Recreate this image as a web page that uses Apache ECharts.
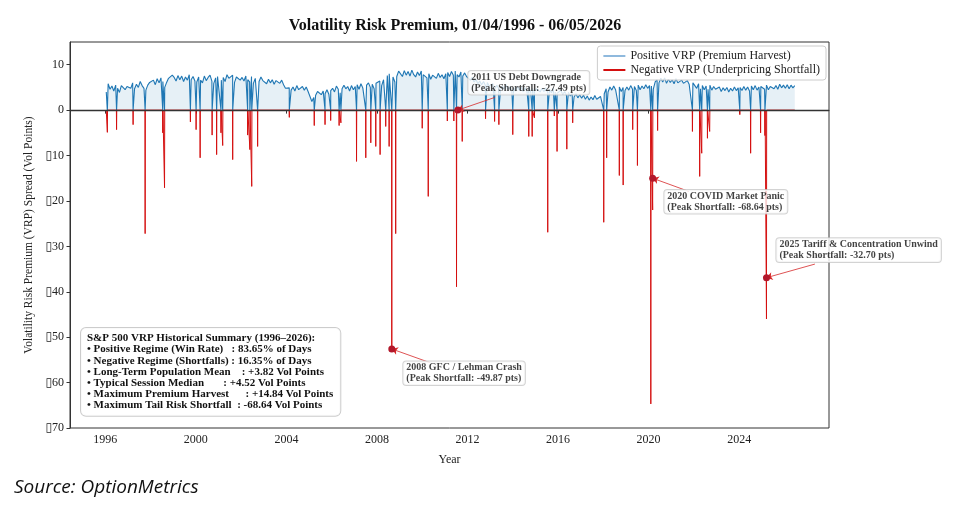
<!DOCTYPE html>
<html>
<head>
<meta charset="utf-8">
<title>Volatility Risk Premium</title>
<script src="https://cdn.jsdelivr.net/npm/echarts@6/dist/echarts.min.js"></script>
<style>
    html, body { margin: 0; padding: 0; background: #fff; }
    #main { width: 966px; height: 513px; }
</style>
</head>
<body>
<div id="main"></div>
<script>
const FONT = "'Liberation Serif', 'DejaVu Serif', serif";

// monthly VRP level, Jan 1996 .. Jun 2026 (one row per year)
const vrpMonthly = [
    4.0, 5.8, 4.6, 5.3, 4.2, 5.5, 4.8, 3.9, 5.4, 5.8, 4.5, 5.2,
    5.6, 4.8, 6.0, 4.7, 5.7, 5.0, 6.3, 5.4, 4.8, 4.4, 5.5, 6.1,
    6.2, 6.6, 5.6, 6.9, 6.0, 7.1, 6.3, 5.0, 6.1, 7.0, 7.4, 7.7,
    7.2, 6.4, 7.6, 6.7, 7.5, 6.3, 7.3, 6.6, 7.8, 6.7, 7.4, 6.4,
    6.2, 7.3, 6.6, 6.0, 7.5, 6.5, 7.2, 7.7, 6.4, 5.9, 7.1, 7.4,
    7.6, 6.6, 7.2, 6.3, 7.8, 7.0, 6.7, 7.7, 6.1, 7.3, 7.6, 6.6,
    7.2, 6.4, 7.5, 6.7, 6.2, 7.4, 5.9, 7.0, 7.2, 6.3, 7.3, 6.5,
    6.6, 5.8, 6.8, 6.0, 6.7, 5.7, 6.5, 6.9, 5.9, 6.6, 5.6, 4.8,
    5.0, 4.9, 4.4, 5.1, 4.2, 5.4, 4.5, 4.3, 5.2, 4.4, 5.1, 4.1,
    3.0, 1.9, 2.8, 3.3, 4.1, 3.9, 3.4, 4.2, 3.6, 4.5, 3.5, 4.3,
    4.8, 4.0, 5.3, 4.6, 3.8, 4.7, 5.5, 4.7, 5.2, 4.2, 5.4, 4.5,
    5.2, 5.6, 4.6, 5.8, 4.9, 5.1, 5.5, 6.0, 5.0, 5.7, 4.7, 5.9,
    6.1, 6.4, 5.4, 6.7, 7.1, 7.6, 8.0, 8.4, 7.3, 6.2, 7.4, 8.6,
    8.3, 7.4, 8.7, 7.7, 8.5, 7.5, 8.8, 7.8, 7.3, 8.4, 7.6, 8.6,
    7.8, 8.1, 7.1, 8.0, 6.8, 7.7, 7.9, 7.0, 8.1, 7.2, 7.8, 6.9,
    8.0, 8.3, 7.4, 8.5, 7.7, 8.6, 7.8, 7.3, 8.4, 7.5, 8.2, 7.4,
    7.5, 6.6, 7.2, 6.2, 6.8, 5.8, 6.4, 5.6, 6.3, 5.4, 6.1, 5.3,
    5.4, 5.8, 4.7, 5.5, 4.8, 4.4, 5.3, 4.6, 5.6, 4.5, 5.2, 4.3,
    5.0, 4.2, 5.2, 4.4, 5.1, 4.1, 4.9, 4.3, 5.1, 4.0, 4.8, 4.2,
    4.7, 5.0, 4.0, 4.8, 4.1, 4.9, 3.9, 4.6, 3.8, 4.8, 4.0, 3.7,
    4.0, 4.4, 3.4, 4.1, 3.2, 3.9, 3.1, 3.7, 2.9, 3.6, 2.7, 3.4,
    2.6, 3.3, 2.4, 3.1, 2.2, 2.9, 2.3, 3.2, 2.4, 2.1, 3.0, 3.4,
    3.6, 4.7, 4.0, 5.1, 4.4, 5.3, 4.5, 4.2, 5.1, 4.1, 5.0, 4.3,
    5.1, 4.4, 5.4, 4.6, 5.2, 4.3, 5.5, 4.5, 5.3, 4.7, 5.6, 4.8,
    5.4, 5.3, 4.6, 6.2, 6.7, 6.0, 7.0, 6.2, 7.1, 5.9, 6.8, 6.1,
    6.7, 5.8, 6.9, 6.0, 5.6, 6.6, 5.9, 5.5, 6.5, 5.7, 5.3, 6.0,
    5.6, 4.8, 5.8, 4.7, 5.4, 4.5, 5.3, 4.6, 5.5, 4.4, 5.2, 4.6,
    4.8, 5.1, 4.1, 4.9, 4.3, 5.0, 4.0, 4.8, 4.2, 5.1, 4.3, 4.9,
    5.0, 4.3, 5.2, 4.4, 5.1, 4.2, 5.3, 4.5, 5.4, 4.4, 5.1, 5.2,
    5.3, 4.6, 5.5, 4.5, 5.2, 5.6, 4.7, 5.4, 4.6, 5.7, 4.9, 5.5,
    4.8, 5.6, 4.7, 5.5, 4.9, 5.4
];

// shortfall days (negative VRP spikes)
const shortfallDates = [
    '1996-02-03', '1996-07-01', '1997-03-25', '1997-10-05', '1998-07-16', '1998-08-14',
    '1999-10-05', '2000-01-05', '2000-03-10', '2000-09-20', '2000-12-02', '2001-02-10',
    '2001-03-10', '2001-08-18', '2002-04-16', '2002-05-22', '2002-06-21', '2002-09-24',
    '2004-02-17', '2005-03-26', '2005-09-16', '2005-12-16', '2006-05-01', '2006-05-30',
    '2007-02-06', '2007-07-05', '2007-09-24', '2007-12-13', '2008-02-21', '2008-05-22',
    '2008-07-16', '2008-08-28', '2008-10-30', '2010-01-01', '2010-04-08', '2011-02-10',
    '2011-05-26', '2011-07-08', '2011-10-08', '2012-10-19', '2013-03-14', '2013-05-22',
    '2014-01-01', '2014-09-16', '2014-11-10', '2014-12-16', '2015-07-19', '2015-11-02',
    '2015-12-16', '2016-05-22', '2016-08-25', '2018-01-08', '2018-02-24', '2018-09-16',
    '2018-11-17', '2019-04-20', '2019-07-05', '2020-02-06', '2020-03-07', '2020-05-26',
    '2021-12-09', '2022-04-05', '2022-05-08', '2022-08-08', '2022-09-13', '2024-01-12',
    '2024-07-05', '2024-12-13', '2025-02-21', '2025-03-18'
];
const shortfallValues = [
    -4.9, -4.3, -3.2, -27.2, -5.0, -17.1,
    -2.6, -4.3, -10.5, -5.5, -9.8, -5.0,
    -7.8, -10.9, -5.5, -8.7, -16.8, -8.0,
    -1.6, -3.4, -3.2, -2.3, -3.4, -2.8,
    -11.3, -10.5, -7.2, -8.0, -9.8, -3.6,
    -8.0, -52.6, -27.2, -4.0, -19.0, -2.4,
    -2.4, -38.9, -6.9, -1.9, -2.5, -3.2,
    -5.4, -5.8, -5.8, -1.7, -26.9, -1.3,
    -9.1, -8.6, -2.8, -24.7, -10.5, -14.4,
    -16.5, -4.3, -12.2, -64.7, -22.0, -4.5,
    -4.7, -14.6, -9.5, -6.2, -4.7, -1.0,
    -9.5, -5.0, -5.6, -46.0
];

const xTickYears = [1996, 2000, 2004, 2008, 2012, 2016, 2020, 2024];

// annotated events: marker point, label box corner, arrow start
const events = [
    { date: '2011-07-30', value: 0, text: '2011 US Debt Downgrade\n(Peak Shortfall: -27.49 pts)',
      labelAt: ['2012-01-22', 8.5], arrowFrom: ['2013-03-18', 2.8] },
    { date: '2008-08-28', value: -52.6, text: '2008 GFC / Lehman Crash\n(Peak Shortfall: -49.87 pts)',
      labelAt: ['2009-03-10', -55.45], arrowFrom: ['2010-05-04', -55.6] },
    { date: '2020-03-07', value: -15.0, text: '2020 COVID Market Panic\n(Peak Shortfall: -68.64 pts)',
      labelAt: ['2020-09-20', -17.7], arrowFrom: ['2021-10-12', -17.9] },
    { date: '2025-03-18', value: -36.9, text: '2025 Tariff & Concentration Unwind\n(Peak Shortfall: -32.70 pts)',
      labelAt: ['2025-09-02', -28.35], arrowFrom: ['2027-05-08', -33.9] }
];

const summaryLines = [
    'S&P 500 VRP Historical Summary (1996\u20132026):',
    '\u2022 Positive Regime (Win Rate)   : 83.65% of Days',
    '\u2022 Negative Regime (Shortfalls) : 16.35% of Days',
    '\u2022 Long-Term Population Mean    : +3.82 Vol Points',
    '\u2022 Typical Session Median       : +4.52 Vol Points',
    '\u2022 Maximum Premium Harvest      : +14.84 Vol Points',
    '\u2022 Maximum Tail Risk Shortfall  : -68.64 Vol Points'
];

// dates -> fractional years, so the x axis is a plain value axis
function toYear(s) {
    const d = new Date(s + 'T00:00:00');
    const y = d.getFullYear();
    const start = new Date(y, 0, 1);
    const end = new Date(y + 1, 0, 1);
    return y + (d - start) / (end - start);
}
const DAYS = 1 / 365.25;

const monthly = vrpMonthly.map((v, i) => [1996 + (i + 0.5) / 12, v]);
const spikes = shortfallDates.map((d, i) => [toYear(d), shortfallValues[i]]);

// blue line drops to zero on shortfall days, red line only leaves zero there
const positive = monthly.concat(spikes.map(s => [s[0], 0])).sort((a, b) => a[0] - b[0]);
const negative = [[monthly[0][0], 0]];
spikes.forEach(([t, v]) => {
    negative.push([t - 3 * DAYS, 0], [t, v], [t + 3 * DAYS, 0]);
});
negative.push([monthly[monthly.length - 1][0], 0]);
negative.sort((a, b) => a[0] - b[0]);

const chart = echarts.init(document.getElementById('main'));
chart.setOption({
    animation: false,
    title: {
        text: 'Volatility Risk Premium, 01/04/1996 - 06/05/2026',
        left: 450,
        top: 13,
        textAlign: 'center',
        textStyle: { fontFamily: FONT, fontSize: 16, fontWeight: 'bold', color: '#111' }
    },
    legend: {
        orient: 'vertical',
        right: 140,
        top: 46,
        padding: [4, 6, 4, 6],
        itemGap: 2,
        itemWidth: 22,
        itemHeight: 2,
        backgroundColor: 'rgba(255,255,255,0.8)',
        borderColor: '#cccccc',
        borderWidth: 1,
        borderRadius: 3,
        textStyle: { fontFamily: FONT, fontSize: 12, color: '#222' },
        data: [
            { name: 'Positive VRP (Premium Harvest)', icon: 'rect', itemStyle: { color: '#8fb9dd' } },
            { name: 'Negative VRP (Underpricing Shortfall)', icon: 'rect', itemStyle: { color: '#d40f0f' } }
        ]
    },
    grid: {
        left: 70,
        right: 137,
        top: 42,
        bottom: 85,
        show: true,
        borderColor: '#333',
        borderWidth: 1,
        outerBoundsMode: 'none'
    },
    xAxis: {
        type: 'value',
        min: 1994.44,
        max: 2027.97,
        name: 'Year',
        nameLocation: 'middle',
        nameGap: 26,
        nameTextStyle: { fontFamily: FONT, fontSize: 12, color: '#222' },
        axisLine: { lineStyle: { color: '#333' } },
        axisTick: { show: true, length: 3.5, customValues: xTickYears, lineStyle: { color: '#333' } },
        axisLabel: {
            customValues: xTickYears,
            formatter: v => String(Math.round(v)),
            fontFamily: FONT,
            fontSize: 12,
            color: '#222',
            margin: 6
        },
        splitLine: { show: false }
    },
    yAxis: {
        type: 'value',
        min: -70,
        max: 15,
        interval: 10,
        name: 'Volatility Risk Premium (VRP) Spread (Vol Points)',
        nameLocation: 'middle',
        nameGap: 33,
        nameTextStyle: { fontFamily: FONT, fontSize: 11.5, color: '#222' },
        axisLine: { show: true, lineStyle: { color: '#333' } },
        axisTick: { show: true, length: 3.5, lineStyle: { color: '#333' } },
        axisLabel: {
            formatter: v => (v < 0 ? '\u25af' + (-v) : String(v)),
            showMaxLabel: false,
            fontFamily: FONT,
            fontSize: 12,
            color: '#222',
            margin: 6
        },
        splitLine: { show: false }
    },
    series: [
        {
            name: 'Positive VRP (Premium Harvest)',
            type: 'line',
            data: positive,
            symbol: 'none',
            lineStyle: { color: '#1f77b4', width: 1.1 },
            itemStyle: { color: '#1f77b4' },
            areaStyle: { color: 'rgba(31,119,180,0.16)' },
            silent: true,
            z: 2
        },
        {
            name: 'Negative VRP (Underpricing Shortfall)',
            type: 'line',
            data: negative,
            symbol: 'none',
            lineStyle: { color: '#d40f0f', width: 1 },
            itemStyle: { color: '#d40f0f' },
            areaStyle: { color: 'rgba(220,30,30,0.25)' },
            silent: true,
            z: 3,
            markLine: {
                silent: true,
                symbol: ['none', 'none'],
                label: { show: false },
                lineStyle: { color: '#333', width: 1.3, type: 'solid' },
                data: [{ yAxis: 0 }]
            }
        },
        {
            name: 'events',
            type: 'scatter',
            data: events.map(e => [toYear(e.date), e.value]),
            symbolSize: 7,
            itemStyle: { color: '#b2182b', opacity: 1 },
            silent: true,
            z: 10
        },
        {
            name: 'notes',
            type: 'scatter',
            data: events.map(e => ({
                value: [toYear(e.labelAt[0]), e.labelAt[1]],
                label: { formatter: e.text }
            })),
            symbolSize: 1,
            itemStyle: { color: 'rgba(0,0,0,0)' },
            silent: true,
            z: 12,
            label: {
                show: true,
                position: [0, 0],
                fontFamily: FONT,
                fontSize: 10,
                fontWeight: 'bold',
                lineHeight: 10.8,
                color: '#111',
                backgroundColor: '#fff',
                borderColor: '#c8c8c8',
                borderWidth: 1,
                borderRadius: 3,
                padding: [1, 3, 1, 3]
            },
            markLine: {
                silent: true,
                symbol: ['none', 'arrow'],
                symbolSize: 6,
                label: { show: false },
                lineStyle: { color: '#d62728', width: 0.8, type: 'solid' },
                data: events.map(e => [
                    { coord: [toYear(e.arrowFrom[0]), e.arrowFrom[1]] },
                    { coord: [toYear(e.date), e.value] }
                ])
            }
        }
    ],
    graphic: [
        {
            type: 'text',
            left: 80,
            top: 327,
            z: 100,
            style: {
                text: summaryLines.join('\n'),
                font: 'bold 11px ' + FONT,
                lineHeight: 11.1,
                fill: '#111',
                backgroundColor: 'rgba(255,255,255,0.9)',
                borderColor: '#cccccc',
                borderWidth: 1,
                borderRadius: 5,
                padding: [5, 7, 5, 6]
            }
        },
        {
            type: 'text',
            left: 14,
            top: 478,
            z: 100,
            style: {
                text: 'Source: OptionMetrics',
                font: "italic 19px 'Open Sans'",
                fill: '#111'
            }
        }
    ]
});
</script>
</body>
</html>
